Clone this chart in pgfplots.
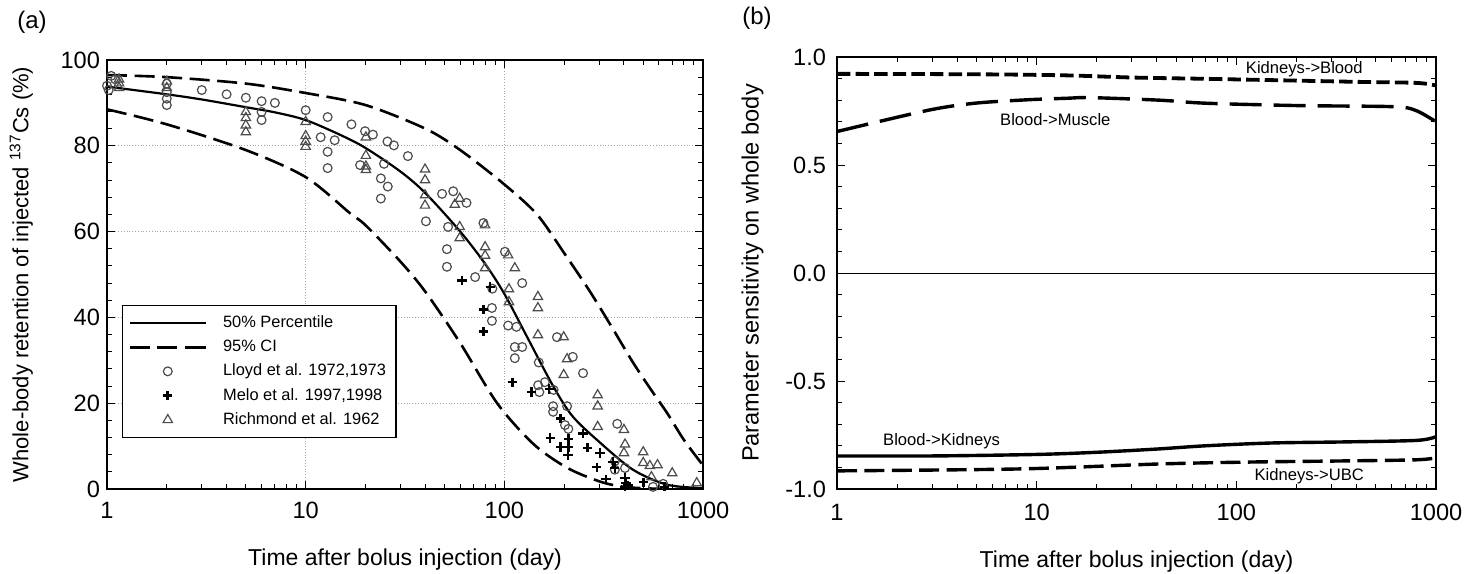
\documentclass[border=0pt]{standalone}
\usepackage{pgfplots}
\pgfplotsset{compat=1.18}
\usepackage{fontspec}
\setmainfont{Liberation Sans}

\begin{document}
\begin{tikzpicture}
\useasboundingbox (-53.5pt,-42pt) rectangle (682.5pt,244.5pt);

% (a) retention
\begin{axis}[
    scale only axis,
    width=298pt, height=214.5pt,
    xmode=log,
    xmin=1, xmax=1000,
    ymin=0, ymax=100,
    xtick={1,10,100,1000},
    xticklabels={1,10,100,1000},
    ytick={0,20,40,60,80,100},
    yticklabels={0,20,40,60,80,100},
    minor y tick num=4,
    tick align=inside,
    major tick length=4pt, minor tick length=2.5pt,
    grid=major,
    grid style={densely dotted, black!35, line width=0.4pt},
    axis line style={line width=0.8pt},
    tick style={black, line width=0.5pt},
    ticklabel style={font=\fontsize{11.8}{14}\selectfont},
    xticklabel style={yshift=-3pt},
    xlabel={Time after bolus injection (day)},
    ylabel={Whole-body retention of injected \textsuperscript{137}Cs (\%)},
    xlabel style={font=\fontsize{11.5}{13}\selectfont, yshift=-8pt},
    ylabel style={font=\fontsize{11}{13}\selectfont, yshift=7pt},
    legend style={at={(0.025,0.119)}, anchor=south west, draw=black, line width=0.6pt,
        font=\fontsize{8.2}{10}\selectfont, inner sep=3pt, row sep=0.7pt},
    legend cell align=left,
    legend image code/.code={\draw[mark repeat=2,mark phase=2,#1] plot coordinates {(0pt,0pt) (19pt,0pt) (38pt,0pt)};},
]
\addplot[black, line width=1.1pt, smooth] coordinates {
    (1,93.8) (2,92) (3,90.8) (5,89) (7,87.8) (10,86) (15,82.5) (20,79.5) (30,74) (40,69)
    (60,60) (80,52.5) (100,45.5) (130,35.5) (176,24) (220,17) (300,11) (444,4.5) (660,1) (1000,0.2)
};
\addlegendentry{\hspace{6pt}50\% Percentile}
\addplot[black, line width=1.3pt, dash pattern=on 10pt off 3.8pt, smooth] coordinates {
    (1,96.5) (2,96) (5,94.5) (10,92.3) (20,89.5) (40,84) (60,79) (100,71) (146,64)
    (200,55) (270,46) (350,37.5) (444,29.5) (550,23) (660,17.7) (800,11.5) (1000,5.5)
};
\addlegendentry{\hspace{6pt}95\% CI}
\addplot[black, line width=1.3pt, dash pattern=on 10pt off 3.8pt, smooth, forget plot] coordinates {
    (1,88.5) (2,85) (5,79) (10,72.7) (16.7,64.3) (20,61.5) (30,53) (40,46) (60,34)
    (92,20) (140,10.5) (206,5) (300,1.8) (400,0.5) (600,0.05) (1000,0)
};
\addplot[only marks, mark=o, mark size=2.2pt, black!70, line width=0.6pt] coordinates {
    (1,94) (1.05,96.3) (1.1,95.5) (1.02,93)
    (2,94.5) (2,92.5) (2,91) (2,89.5)
    (3,93) (4,92) (5,91.2) (6,90.4) (6,87.9) (6,86) (7,90)
    (10,88.3) (11.9,82) (12.9,86.7) (12.9,78.6) (12.9,74.8) (14,81.3) (17,85)
    (18.8,75.5) (19.9,83.4) (21.8,82.6) (23.9,72.4) (24.8,75.8) (23.9,67.7) (25.9,70.5)
    (25.8,81) (27.8,80.1) (32.7,77.6)
    (40.3,62.4) (48.6,68.8) (55.3,69.4) (64.5,66.7) (52.1,61.1) (51.4,55.9) (51.4,51.8)
    (71.3,49.4) (78.5,62) (87,46.7) (86.6,42.2) (86.6,39.2) (100.7,55.3) (123,48)
    (104.5,38.1) (115,37.8) (184,35.4) (112.9,33.1) (123,33.1) (112.9,30.5) (149,29.5)
    (221,30.8) (249,27) (148,24.2) (160,24.9) (150,22.6) (177,23.1) (176,19.3) (176,18)
    (207,19.3) (202,14.9) (210,14) (370,15.2) (360,4.5) (405,4.9) (560,0.5) (630,1.2) (360,6.5)
};
\addlegendentry{\hspace{6pt}Lloyd et al. 1972,1973}
\addplot[only marks, mark=+, mark size=2.3pt, black, line width=1.3pt] coordinates {
    (61.2,48.6) (84.8,47.1) (78.4,41.9) (78.4,36.7) (110,24.9) (137,22.6) (168,23.3)
    (192,16.5) (170,11.9) (211,11.7) (249,13) (192,9.8) (211,9.8) (209,7.9) (263,9.6)
    (303,8.4) (292,5.1) (352,6.3) (360,4.9) (325,2.3) (405,2.6) (410,1.4) (405,0.5)
    (500,1.6) (640,0.5) (420,0.8)
};
\addlegendentry{\hspace{6pt}Melo et al. 1997,1998}
\addplot[only marks, mark=triangle, mark size=2.7pt, black!70, line width=0.6pt] coordinates {
    (1.15,93.5) (1.15,94.6) (1.15,95.5) (2,95) (2,93.5)
    (5,87.9) (5,86.5) (5,84.8) (5,83.2) (10,85.6) (10,82.3) (10,81) (10,79.8)
    (20.1,82) (20.1,77.7) (20.1,74.4) (20.1,75.2) (39.9,74.5) (39.9,72) (39.9,68.5) (39.9,66.1)
    (56.3,66.3) (59.6,67.7) (59.6,61.1) (59.6,58.5) (80,61.5) (80,56.4) (80,54.4) (80,51.5)
    (104.5,54.5) (112.9,51.5) (105.5,46.6) (105.5,43.6) (147.6,44.8) (147.6,42.2) (147.6,35.9)
    (199,35.4) (207,30.3) (199,26.6) (295,21.9) (295,19.3) (295,14.5) (400,13.8) (405,10.4)
    (400,8.4) (500,8.6) (500,6.1) (540,5.4) (590,5.6) (700,3.7) (550,2.8) (930,1.4)
};
\addlegendentry{\hspace{6pt}Richmond et al. 1962}
\end{axis}

% (b) sensitivity
\begin{axis}[
    at={(365pt,0pt)},
    scale only axis,
    width=299.5pt, height=216pt,
    xmode=log,
    xmin=1, xmax=1000,
    ymin=-1, ymax=1,
    xtick={1,10,100,1000},
    xticklabels={1,10,100,1000},
    ytick={-1,-0.5,0,0.5,1},
    yticklabels={-1.0,-0.5,0.0,0.5,1.0},
    minor y tick num=4,
    tick align=inside,
    major tick length=4pt, minor tick length=2.5pt,
    axis line style={line width=0.8pt},
    tick style={black, line width=0.5pt},
    ticklabel style={font=\fontsize{11.8}{14}\selectfont},
    xticklabel style={yshift=-4pt},
    yticklabel style={xshift=-2pt},
    xlabel={Time after bolus injection (day)},
    ylabel={Parameter sensitivity on whole body},
    xlabel style={font=\fontsize{11.5}{13}\selectfont, yshift=-8pt},
    ylabel style={font=\fontsize{11.8}{13}\selectfont, yshift=4pt},
]
\addplot[black, line width=0.5pt] coordinates {(1,0) (1000,0)};
\addplot[black, line width=1.9pt, dash pattern=on 6.7pt off 2.6pt, smooth] coordinates {
    (1,0.922) (5,0.92) (14,0.915) (30,0.905) (70,0.899) (150,0.893) (400,0.885) (800,0.88) (1000,0.868)
};
\addplot[black, line width=1.7pt, dash pattern=on 16pt off 6pt, smooth] coordinates {
    (1,0.655) (2.85,0.753) (4.9,0.786) (9,0.802) (14.2,0.809) (18.6,0.812) (41.5,0.8)
    (70.6,0.786) (206,0.775) (607,0.77) (790,0.753) (1000,0.70)
};
\addplot[black, line width=1.7pt, smooth] coordinates {
    (1,-0.847) (3,-0.847) (10,-0.84) (20,-0.83) (40,-0.815) (70,-0.80) (150,-0.787)
    (350,-0.782) (800,-0.775) (1000,-0.758)
};
\addplot[black, line width=1.7pt, dash pattern=on 10pt off 3.7pt, smooth] coordinates {
    (1,-0.916) (8.3,-0.907) (41.5,-0.884) (121,-0.875) (350,-0.87) (790,-0.865) (1000,-0.856)
};
\node[font=\fontsize{8.3}{10}\selectfont] at (axis cs:219,0.944) {Kidneys->Blood};
\node[font=\fontsize{8.3}{10}\selectfont] at (axis cs:12.4,0.712) {Blood->Muscle};
\node[font=\fontsize{8.3}{10}\selectfont] at (axis cs:3.34,-0.777) {Blood->Kidneys};
\node[font=\fontsize{8.3}{10}\selectfont] at (axis cs:232,-0.94) {Kidneys->UBC};
\end{axis}

\node[font=\fontsize{12}{14}\selectfont] at (-37.5pt,233.5pt) {(a)};
\node[font=\fontsize{12}{14}\selectfont] at (325pt,235.5pt) {(b)};
\end{tikzpicture}
\end{document}
